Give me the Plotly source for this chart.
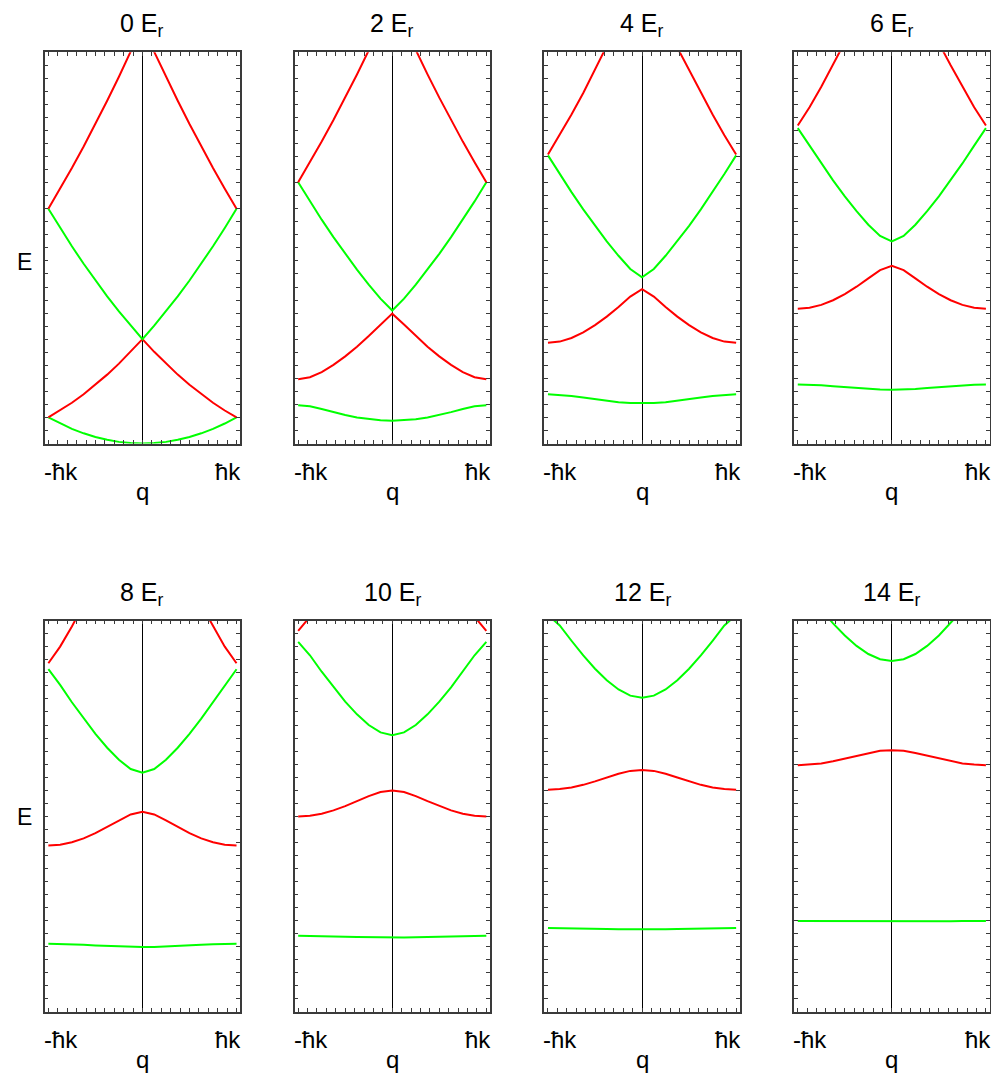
import plotly.graph_objects as go

# ---------------- data ----------------
# Bloch momentum q in units of hbar*k
q = [-1.0, -0.875, -0.75, -0.625, -0.5, -0.375, -0.25, -0.125, 0.0,
     0.125, 0.25, 0.375, 0.5, 0.625, 0.75, 0.875, 1.0]

depths = [0, 2, 4, 6, 8, 10, 12, 14]          # lattice depth in E_r
x_tick_labels = ["-ħk", "ħk"]
x_title = "q"
y_title = "E"

# band energies (E_r), one list per band, for each lattice depth
bands_0 = [
    [1, 0.7656, 0.5625, 0.3906, 0.25, 0.1406, 0.0625, 0.0156, 0, 0.0156, 0.0625, 0.1406, 0.25, 0.3906, 0.5625, 0.7656, 1],
    [1, 1.2656, 1.5625, 1.8906, 2.25, 2.6406, 3.0625, 3.5156, 4, 3.5156, 3.0625, 2.6406, 2.25, 1.8906, 1.5625, 1.2656, 1],
    [9, 8.2656, 7.5625, 6.8906, 6.25, 5.6406, 5.0625, 4.5156, 4, 4.5156, 5.0625, 5.6406, 6.25, 6.8906, 7.5625, 8.2656, 9],
    [9, 9.7656, 10.5625, 11.3906, 12.25, 13.1406, 14.0625, 15.0156, 16, 15.0156, 14.0625, 13.1406, 12.25, 11.3906, 10.5625, 9.7656, 9],
]
bands_2 = [
    [1.471, 1.426, 1.322, 1.203, 1.092, 1.000, 0.932, 0.891, 0.877, 0.891, 0.932, 1.000, 1.092, 1.203, 1.322, 1.426, 1.471],
    [2.467, 2.542, 2.739, 3.013, 3.341, 3.711, 4.121, 4.560, 4.979, 4.560, 4.121, 3.711, 3.341, 3.013, 2.739, 2.542, 2.467],
    [10.016, 9.283, 8.582, 7.912, 7.274, 6.668, 6.095, 5.555, 5.101, 5.555, 6.095, 6.668, 7.274, 7.912, 8.582, 9.283, 10.016],
    [10.018, 10.780, 11.576, 12.403, 13.261, 14.151, 15.072, 16.03, 17.0, 16.03, 15.072, 14.151, 13.261, 12.403, 11.576, 10.780, 10.018],
]
bands_4 = [
    [1.890, 1.870, 1.824, 1.760, 1.693, 1.635, 1.585, 1.555, 1.545, 1.555, 1.585, 1.635, 1.693, 1.760, 1.824, 1.870, 1.890],
    [3.859, 3.907, 4.045, 4.259, 4.537, 4.866, 5.237, 5.633, 5.917, 5.633, 5.237, 4.866, 4.537, 4.259, 4.045, 3.907, 3.859],
    [11.048, 10.335, 9.640, 8.978, 8.348, 7.754, 7.198, 6.692, 6.371, 6.692, 7.198, 7.754, 8.348, 8.978, 9.640, 10.335, 11.048],
    [11.078, 11.823, 12.615, 13.439, 14.317, 15.181, 16.1, 17.05, 18.03, 17.05, 16.1, 15.181, 14.317, 13.439, 12.615, 11.823, 11.078],
]
bands_6 = [
    [2.267, 2.257, 2.230, 2.196, 2.159, 2.124, 2.092, 2.070, 2.063, 2.070, 2.092, 2.124, 2.159, 2.196, 2.230, 2.257, 2.267],
    [5.166, 5.202, 5.314, 5.493, 5.728, 6.012, 6.331, 6.646, 6.814, 6.646, 6.331, 6.012, 5.728, 5.493, 5.314, 5.202, 5.166],
    [12.092, 11.422, 10.738, 10.089, 9.478, 8.908, 8.388, 7.955, 7.747, 7.955, 8.388, 8.908, 9.478, 10.089, 10.738, 11.422, 12.092],
    [12.194, 12.896, 13.682, 14.50, 15.35, 16.24, 17.16, 18.1, 19.05, 18.1, 17.16, 16.24, 15.35, 14.50, 13.682, 12.896, 12.194],
]
bands_8 = [
    [2.609, 2.604, 2.590, 2.570, 2.546, 2.524, 2.504, 2.491, 2.486, 2.491, 2.504, 2.524, 2.546, 2.570, 2.590, 2.604, 2.609],
    [6.379, 6.410, 6.504, 6.655, 6.852, 7.087, 7.346, 7.572, 7.672, 7.572, 7.346, 7.087, 6.852, 6.655, 6.504, 6.410, 6.379],
    [13.140, 12.540, 11.873, 11.247, 10.663, 10.129, 9.666, 9.314, 9.173, 9.314, 9.666, 10.129, 10.663, 11.247, 11.873, 12.540, 13.140],
    [13.370, 14.006, 14.78, 15.59, 16.40, 17.26, 18.16, 19.11, 20.03, 19.11, 18.16, 17.26, 16.40, 15.59, 14.78, 14.006, 13.370],
]
bands_10 = [
    [2.924, 2.921, 2.912, 2.899, 2.885, 2.870, 2.858, 2.850, 2.847, 2.850, 2.858, 2.870, 2.885, 2.899, 2.912, 2.921, 2.924],
    [7.497, 7.522, 7.600, 7.728, 7.889, 8.080, 8.274, 8.432, 8.493, 8.432, 8.274, 8.080, 7.889, 7.728, 7.600, 7.522, 7.497],
    [14.185, 13.674, 13.043, 12.445, 11.894, 11.409, 11.002, 10.716, 10.613, 10.716, 11.002, 11.409, 11.894, 12.445, 13.043, 13.674, 14.185],
    [14.613, 15.15, 15.90, 16.67, 17.49, 18.3, 19.2, 20.1, 21.0, 20.1, 19.2, 18.3, 17.49, 16.67, 15.90, 15.15, 14.613],
]
bands_12 = [
    [3.215, 3.213, 3.207, 3.199, 3.190, 3.181, 3.173, 3.168, 3.166, 3.168, 3.173, 3.181, 3.190, 3.199, 3.207, 3.213, 3.215],
    [8.519, 8.543, 8.605, 8.706, 8.839, 8.988, 9.131, 9.241, 9.277, 9.241, 9.131, 8.988, 8.839, 8.706, 8.605, 8.543, 8.519],
    [15.22, 14.818, 14.231, 13.669, 13.158, 12.717, 12.362, 12.127, 12.045, 12.127, 12.362, 12.717, 13.158, 13.669, 14.231, 14.818, 15.22],
]
bands_14 = [
    [3.486, 3.485, 3.481, 3.476, 3.470, 3.464, 3.459, 3.455, 3.454, 3.455, 3.459, 3.464, 3.470, 3.476, 3.481, 3.485, 3.486],
    [9.456, 9.483, 9.528, 9.608, 9.711, 9.824, 9.930, 10.010, 10.028, 10.010, 9.930, 9.824, 9.711, 9.608, 9.528, 9.483, 9.456],
    [16.28, 15.95, 15.41, 14.899, 14.433, 14.032, 13.723, 13.524, 13.454, 13.524, 13.723, 14.032, 14.433, 14.899, 15.41, 15.95, 16.28],
]
all_bands = [bands_0, bands_2, bands_4, bands_6, bands_8, bands_10, bands_12, bands_14]

# ---------------- styling / layout ----------------
band_colors = ["#00ff00", "#ff0000", "#00ff00", "#ff0000"]
PAGE_OFF = 8                       # default body margin of the html page
W, H = 999 - PAGE_OFF, 1075 - PAGE_OFF
col_left = [44.7, 294.5, 544.3, 794.1]   # px in the page, left edge of each frame
panel_w = 195.5
row_top = [52.3, 620.7]
panel_h = 391.2
e_label_x = 24
e_label_y = [262, 817]
FONT = "Liberation Sans, Arial, Helvetica, sans-serif"
frame_col = "#3a3a3a"


def px(xp):
    return (xp - PAGE_OFF) / W


def py(yp):
    return 1 - (yp - PAGE_OFF) / H


fig = go.Figure()
annotations = []
layout_axes = {}

for i, (depth, bands) in enumerate(zip(depths, all_bands)):
    r, c = divmod(i, 4)
    k = i + 1
    xs = "" if k == 1 else str(k)
    l = col_left[c]
    t = row_top[r]
    for b, band in enumerate(bands):
        fig.add_trace(go.Scatter(
            x=q, y=band, mode="lines",
            line=dict(color=band_colors[b], width=2),
            xaxis="x" + xs, yaxis="y" + xs,
            showlegend=False, hoverinfo="skip"))
    layout_axes["xaxis" + xs] = dict(
        domain=[px(l), px(l + panel_w)], range=[-1.039, 1.039],
        anchor="y" + xs, showgrid=False, showticklabels=False,
        zeroline=True, zerolinecolor="black", zerolinewidth=1,
        showline=True, mirror="allticks", linecolor=frame_col, linewidth=1.5,
        ticks="inside", ticklen=4, tickwidth=1, tickcolor=frame_col,
        tick0=0, dtick=0.1, fixedrange=True)
    layout_axes["yaxis" + xs] = dict(
        domain=[py(t + panel_h), py(t)], range=[0, 15],
        anchor="x" + xs, showgrid=False, showticklabels=False,
        zeroline=False,
        showline=True, mirror="allticks", linecolor=frame_col, linewidth=1.5,
        ticks="inside", ticklen=4, tickwidth=1, tickcolor=frame_col,
        tick0=0, dtick=0.5, fixedrange=True)

    cx = px(l + panel_w / 2)
    bottom = t + panel_h
    # panel title
    annotations.append(dict(
        text=f"{depth} E<sub>r</sub>", x=cx, y=py(t - 27),
        xref="paper", yref="paper", xanchor="center", yanchor="middle",
        showarrow=False, font=dict(family=FONT, size=25, color="black")))
    # x tick labels
    annotations.append(dict(
        text=x_tick_labels[0], x=px(l - 3), y=py(bottom + 28),
        xref="paper", yref="paper", xanchor="left", yanchor="middle",
        showarrow=False, font=dict(family=FONT, size=24, color="black")))
    annotations.append(dict(
        text=x_tick_labels[1], x=px(l + panel_w + 3), y=py(bottom + 28),
        xref="paper", yref="paper", xanchor="right", yanchor="middle",
        showarrow=False, font=dict(family=FONT, size=24, color="black")))
    # x axis title
    annotations.append(dict(
        text=x_title, x=cx, y=py(bottom + 48),
        xref="paper", yref="paper", xanchor="center", yanchor="middle",
        showarrow=False, font=dict(family=FONT, size=24, color="black")))
    # y axis title (first column only)
    if c == 0:
        annotations.append(dict(
            text=y_title, x=px(e_label_x), y=py(e_label_y[r]),
            xref="paper", yref="paper", xanchor="center", yanchor="middle",
            showarrow=False, font=dict(family=FONT, size=23, color="black")))

fig.update_layout(
    width=W, height=H,
    margin=dict(l=0, r=0, t=0, b=0),
    paper_bgcolor="white", plot_bgcolor="white",
    annotations=annotations,
    **layout_axes)

fig.write_html("out.html")
